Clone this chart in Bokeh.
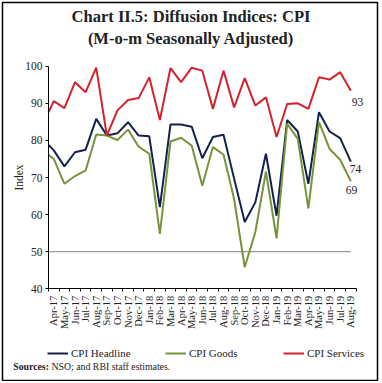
import numpy as np
from bokeh.plotting import figure
from bokeh.models import Range1d, FixedTicker, Label, Legend, LegendItem
from bokeh.embed import file_html
from bokeh.resources import INLINE

months = ["Apr-17", "May-17", "Jun-17", "Jul-17", "Aug-17", "Sep-17", "Oct-17", "Nov-17", "Dec-17",
          "Jan-18", "Feb-18", "Mar-18", "Apr-18", "May-18", "Jun-18", "Jul-18", "Aug-18", "Sep-18",
          "Oct-18", "Nov-18", "Dec-18", "Jan-19", "Feb-19", "Mar-19", "Apr-19", "May-19", "Jun-19",
          "Jul-19", "Aug-19"]

# value where each line enters the plot at the y axis (carried in from the month before Apr-17)
axis_headline = 78.8
axis_goods = 76.1
axis_services = 87.6

cpi_headline = [77.3, 73.0, 76.8, 77.5, 85.8, 81.3, 81.9, 84.9, 81.3, 81.1, 62.0, 84.3, 84.3, 83.7,
                75.2, 80.9, 81.5, 69.7, 58.0, 63.3, 76.4, 59.7, 85.5, 82.4, 68.3, 87.6, 82.4, 80.6, 74.3]
cpi_goods = [75.0, 68.3, 70.4, 71.9, 81.6, 81.3, 80.1, 82.9, 78.3, 76.4, 54.8, 79.7, 80.7, 78.6,
             67.8, 78.2, 76.2, 64.2, 45.8, 55.3, 71.6, 53.6, 84.5, 80.4, 61.7, 84.9, 77.7, 74.8, 69.0]
cpi_services = [90.6, 88.7, 95.7, 93.0, 99.6, 81.3, 88.1, 90.9, 91.4, 97.0, 85.5, 99.5, 95.7, 99.6,
                98.8, 88.5, 98.8, 88.9, 96.8, 89.4, 91.6, 80.9, 89.8, 90.0, 88.5, 97.0, 96.4, 98.4, 93.4]
end_labels = ["93", "74", "69"]
threshold = 50
y_ticks = [40, 50, 60, 70, 80, 90, 100]
y_min, y_max = 40, 100

FONT = "Liberation Serif"
TXT = "#222222"
C_HEAD = "#14214d"
C_GOODS = "#77933c"
C_SERV = "#d2232e"

W, H = 380, 381
# boxed chart area (outline) in figure pixels
BOX_L, BOX_T, BOX_R, BOX_B = 2, 2, 377, 380
# plot-area geometry in figure pixels
AX_L, AX_T, AX_B, AX_R = 48, 65.7, 288.3, 355.6
n = len(months)
PX = (AX_R - AX_L) / n
PY = (AX_B - AX_T) / (y_max - y_min)

def fx(px):
    return -0.5 + (px - AX_L) / PX
def fy(py):
    return y_min + (AX_B - py) / PY

p = figure(width=W, height=H, output_backend="svg", toolbar_location=None, title=None,
           x_range=Range1d(fx(BOX_L), fx(BOX_R)), y_range=Range1d(fy(BOX_B), fy(BOX_T)),
           min_border_left=BOX_L, min_border_right=W - BOX_R,
           min_border_top=BOX_T, min_border_bottom=H - BOX_B)
p.outline_line_color = "black"
p.outline_line_width = 1.5
p.xgrid.visible = False
p.ygrid.visible = False
p.background_fill_color = "white"
p.border_fill_color = "white"

x = np.arange(n)
x_line = np.concatenate([[-0.5], x])

r_50 = p.line([-0.5, n - 1], [threshold, threshold], line_color="#808080", line_width=1)
r_head = p.line(x_line, [axis_headline] + cpi_headline, line_color=C_HEAD, line_width=2)
r_goods = p.line(x_line, [axis_goods] + cpi_goods, line_color=C_GOODS, line_width=2)
r_serv = p.line(x_line, [axis_services] + cpi_services, line_color=C_SERV, line_width=2)

# end-of-series value labels, offset from the last point
for txt, yv, dxo, dyo in [(end_labels[0], cpi_services[-1], 1, -11),
                          (end_labels[1], cpi_headline[-1], -1, -7),
                          (end_labels[2], cpi_goods[-1], -5, -9)]:
    p.add_layout(Label(x=n - 1, y=yv, x_offset=dxo, y_offset=dyo, text=txt,
                       text_font=FONT, text_font_size="11.5px",
                       text_align="left", text_baseline="middle", text_color=TXT))

# axes, pinned to the plot area
yax = p.yaxis[0]
yax.fixed_location = -0.5
yax.bounds = (y_min, y_max)
yax.ticker = FixedTicker(ticks=y_ticks)
yax.axis_line_color = "black"
yax.major_tick_in = 0
yax.major_tick_out = 3
yax.minor_tick_out = 0
yax.minor_tick_in = 0
yax.major_label_standoff = 3
yax.major_label_text_font = FONT
yax.major_label_text_font_size = "11.5px"
yax.major_label_text_color = TXT

xax = p.xaxis[0]
xax.fixed_location = y_min
xax.bounds = (-0.5, n - 0.5)
xax.ticker = FixedTicker(ticks=list(range(n)), minor_ticks=[i - 0.5 for i in range(n + 1)])
xax.major_label_overrides = {i: m for i, m in enumerate(months)}
xax.major_label_orientation = np.pi / 2
xax.axis_line_color = "black"
xax.major_tick_in = 0
xax.major_tick_out = 0
xax.minor_tick_in = 0
xax.minor_tick_out = 3
xax.minor_tick_line_color = "black"
xax.major_label_standoff = 4
xax.major_label_text_font = FONT
xax.major_label_text_font_size = "10.5px"
xax.major_label_text_color = TXT

def text(t, px, py, size, bold=False, align="left", angle=0.0):
    p.add_layout(Label(x=fx(px), y=fy(py), text=t, angle=angle, text_font=FONT,
                       text_font_size=size, text_font_style="bold" if bold else "normal",
                       text_align=align, text_baseline="middle", text_color=TXT))

text("Chart II.5: Diffusion Indices: CPI", 190.5, 15.5, "16.5px", bold=True, align="center")
text("(M-o-m Seasonally Adjusted)", 190.5, 37.5, "16.5px", bold=True, align="center")
text("Index", 18.5, 177, "11.5px", align="center", angle=np.pi / 2)
text("Sources:", 12.7, 366, "9.8px", bold=True)
text("NSO; and RBI staff estimates.", 51, 366, "9.8px")

legend = Legend(items=[LegendItem(label="CPI Headline", renderers=[r_head]),
                       LegendItem(label="CPI Goods", renderers=[r_goods]),
                       LegendItem(label="CPI Services", renderers=[r_serv])],
                orientation="horizontal", location=(45, 21),
                glyph_width=21, glyph_height=12, label_height=12, label_standoff=3,
                label_width=86, spacing=8, padding=0, margin=0,
                border_line_color=None, background_fill_alpha=0,
                label_text_font=FONT, label_text_font_size="11px", label_text_color=TXT)
p.add_layout(legend, "center")

open("out.html", "w").write(file_html(p, INLINE))
